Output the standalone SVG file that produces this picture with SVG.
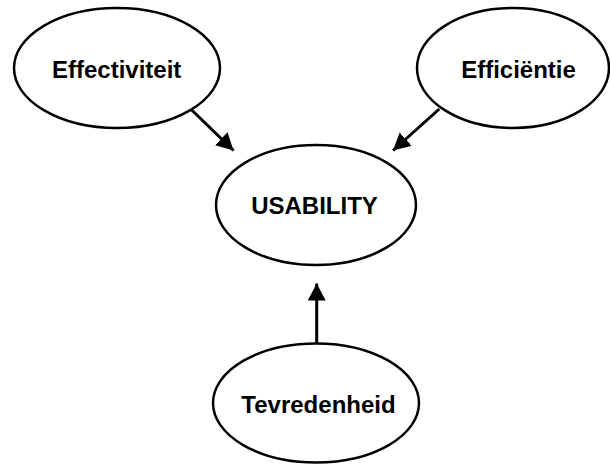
<svg xmlns="http://www.w3.org/2000/svg" width="610" height="464" viewBox="0 0 610 464">
  <style>
    .node ellipse { fill: #ffffff; stroke: #000000; stroke-width: 2.5; }
    .node text { font-family: "Liberation Sans", Arial, sans-serif; font-weight: bold; font-size: 24px; fill: #000000; text-anchor: middle; }
    .edge { stroke: #000000; stroke-width: 3; fill: none; marker-end: url(#arrow); }
  </style>
  <defs>
    <marker id="arrow" markerUnits="userSpaceOnUse" markerWidth="20" markerHeight="20" refX="17" refY="9" orient="auto">
      <path d="M0,0 L17,9 L0,18 Z" fill="#000000"/>
    </marker>
  </defs>
  <rect width="610" height="464" fill="#ffffff"/>

  <g id="connectors">
    <line class="edge" x1="191.7" y1="110" x2="233.5" y2="150.5"/>
    <line class="edge" x1="439.3" y1="109" x2="393" y2="150.5"/>
    <line class="edge" x1="316.7" y1="343" x2="316.7" y2="283.5"/>
  </g>

  <g id="node-effectiviteit" class="node">
    <ellipse cx="117" cy="68" rx="103" ry="60"/>
    <text x="116.7" y="78.3">Effectiviteit</text>
  </g>
  <g id="node-efficientie" class="node">
    <ellipse cx="513" cy="68" rx="96" ry="60"/>
    <text x="518.5" y="78.3">Efficiëntie</text>
  </g>
  <g id="node-usability" class="node">
    <ellipse cx="316" cy="205" rx="100" ry="60"/>
    <text x="314.5" y="214">USABILITY</text>
  </g>
  <g id="node-tevredenheid" class="node">
    <ellipse cx="316" cy="403" rx="103" ry="59.5"/>
    <text x="318.5" y="413">Tevredenheid</text>
  </g>
</svg>
